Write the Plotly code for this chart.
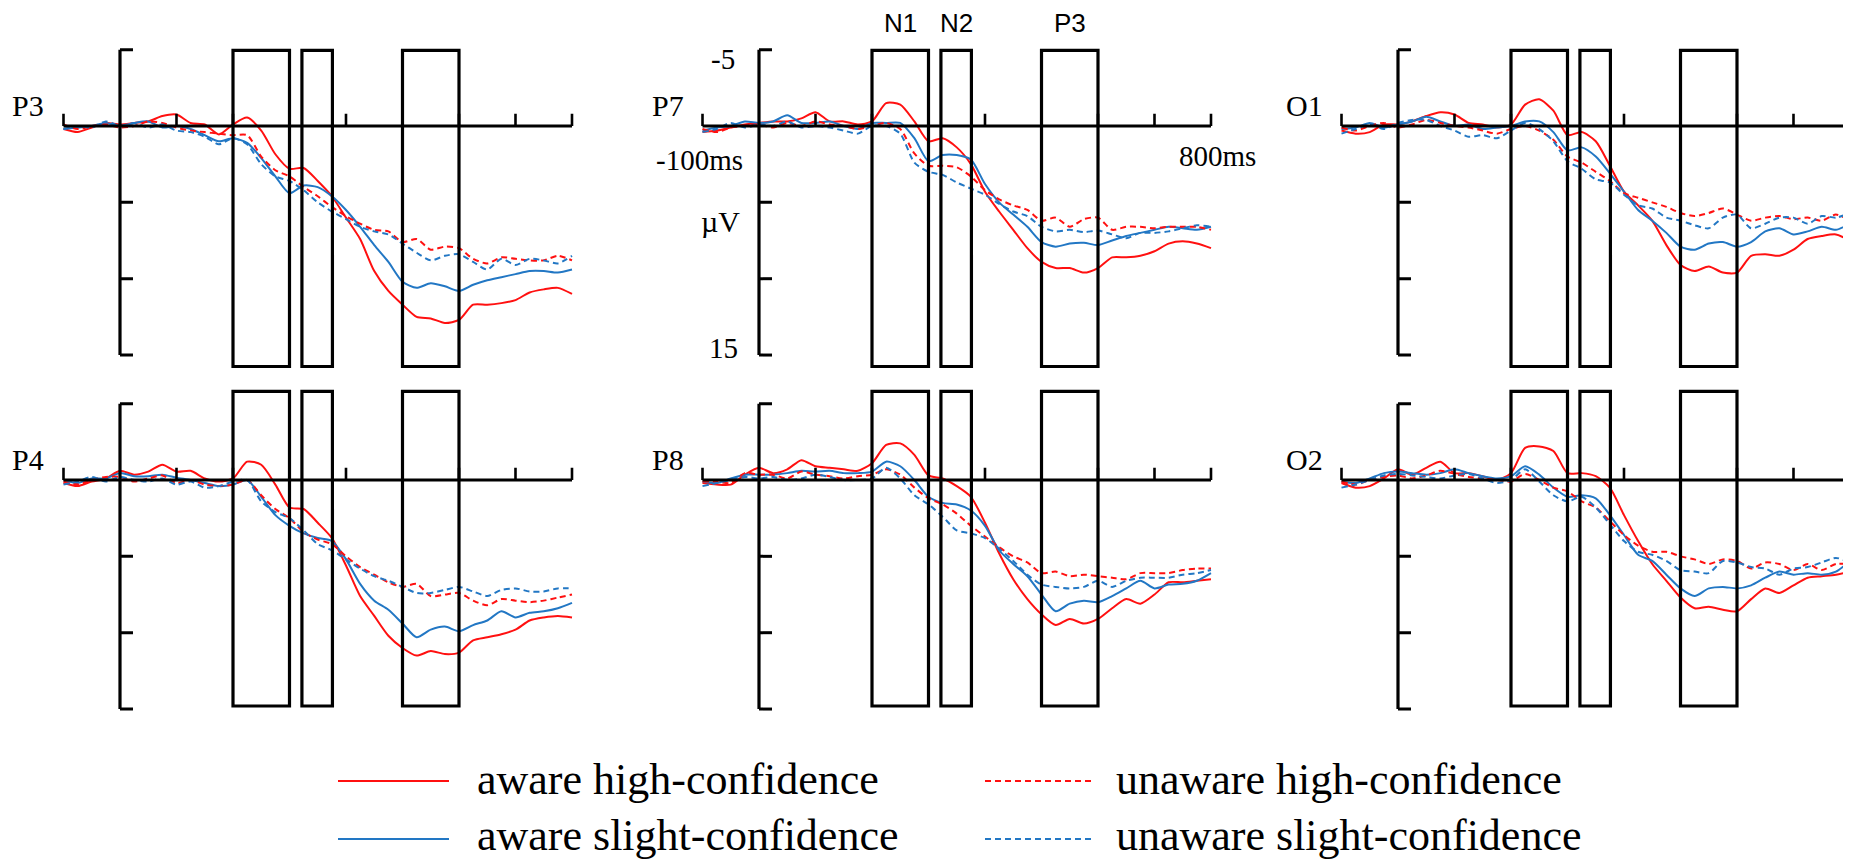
import plotly.graph_objects as go

# ---------------- data ----------------
TIME_MS = [-100, -75, -50, -25, 0, 25, 50, 75, 100, 125, 150, 175, 200, 225, 250, 275,
           300, 325, 350, 375, 400, 425, 450, 475, 500, 525, 550, 575, 600, 625, 650,
           675, 700, 725, 750, 775, 800]

CHANNELS = ["P3", "P7", "O1", "P4", "P8", "O2"]
CONDITIONS = ["aware high-confidence", "aware slight-confidence",
              "unaware high-confidence", "unaware slight-confidence"]

P3_AWARE_HIGH = [0.2, 0.4, 0.1, -0.2, -0.1, -0.2, -0.3, -0.65, -0.75, -0.2, -0.1, 0.55, -0.1, -0.55, 0.3, 1.85,
                 2.8, 2.75, 3.6, 4.6, 6.0, 7.4, 9.5, 10.8, 11.7, 12.5, 12.6, 12.9, 12.7, 11.7, 11.7, 11.6, 11.4, 10.9, 10.7, 10.6, 11.0]
P3_AWARE_SLIGHT = [0.2, 0.1, 0.0, -0.2, 0.0, -0.2, -0.3, 0.1, 0.0, 0.2, 0.6, 1.0, 0.8, 1.1, 2.1, 3.3,
                   4.4, 3.9, 4.0, 4.6, 5.5, 6.6, 7.8, 8.9, 10.2, 10.6, 10.3, 10.5, 10.8, 10.4, 10.1, 9.9, 9.7, 9.5, 9.5, 9.6, 9.4]
P3_UNAWARE_HIGH = [-0.1, 0.2, 0.0, -0.1, 0.1, 0.0, -0.3, -0.2, 0.1, 0.3, 0.4, 0.5, 0.6, 0.6, 2.0, 2.9,
                   3.3, 4.0, 4.6, 5.3, 5.9, 6.4, 6.8, 6.9, 7.6, 7.4, 8.1, 7.9, 8.0, 8.7, 9.0, 8.6, 8.7, 8.8, 8.8, 8.5, 8.8]
P3_UNAWARE_SLIGHT = [0.2, 0.0, 0.1, -0.3, 0.0, -0.2, 0.1, -0.1, 0.3, 0.4, 0.7, 1.2, 0.8, 1.2, 2.5, 3.3,
                     3.6, 4.2, 5.0, 5.6, 6.1, 6.6, 6.9, 7.1, 7.7, 8.3, 8.8, 8.5, 8.4, 8.9, 9.4, 8.7, 9.1, 8.7, 8.8, 9.0, 8.5]

P7_AWARE_HIGH = [0.4, 0.3, 0.1, -0.1, -0.2, -0.3, -0.3, -0.5, -0.9, -0.3, -0.3, -0.1, -0.3, -1.5, -1.4, -0.3,
                 1.0, 0.8, 1.4, 2.5, 4.3, 5.6, 6.8, 8.0, 8.9, 9.3, 9.3, 9.6, 9.3, 8.6, 8.6, 8.5, 8.2, 7.7, 7.55, 7.7, 8.0]
P7_AWARE_SLIGHT = [0.3, 0.1, 0.0, -0.3, -0.2, -0.3, -0.7, -0.2, -0.2, -0.3, 0.0, 0.2, -0.2, -0.2, -0.2, 0.8,
                   2.3, 1.9, 1.9, 2.2, 3.8, 5.0, 5.8, 6.6, 7.6, 7.9, 7.7, 7.65, 7.8, 7.5, 7.2, 7.0, 6.8, 6.6, 6.7, 6.8, 6.6]
P7_UNAWARE_HIGH = [0.2, 0.4, 0.1, 0.0, -0.1, 0.1, -0.2, 0.0, -0.3, -0.1, 0.0, 0.2, 0.0, -0.2, 0.2, 1.8,
                   2.6, 2.6, 2.7, 3.3, 4.2, 4.8, 5.2, 5.5, 6.2, 6.0, 6.6, 6.1, 6.0, 6.8, 6.6, 6.6, 6.7, 6.6, 6.6, 6.6, 6.8]
P7_UNAWARE_SLIGHT = [0.4, 0.2, -0.2, 0.1, -0.1, 0.0, -0.3, 0.1, 0.0, 0.1, 0.3, 0.5, 0.0, 0.0, 0.5, 2.4,
                     3.0, 3.2, 3.7, 4.1, 4.5, 5.1, 5.6, 5.9, 6.6, 6.9, 6.8, 6.95, 6.85, 7.1, 7.35, 7.0, 7.0, 6.9, 6.7, 6.5, 6.6]

O1_AWARE_HIGH = [0.3, 0.5, 0.4, -0.1, -0.1, -0.3, -0.65, -0.9, -0.75, -0.2, -0.1, 0.1, -0.1, -1.4, -1.75, -1.0,
                 0.6, 0.4, 1.0, 2.6, 4.3, 5.2, 6.2, 7.8, 9.1, 9.5, 9.2, 9.6, 9.6, 8.5, 8.4, 8.5, 8.1, 7.4, 7.2, 7.1, 7.5]
O1_AWARE_SLIGHT = [0.2, 0.1, -0.2, 0.1, -0.1, -0.3, -0.6, -0.3, 0.0, -0.1, 0.2, 0.1, 0.0, -0.3, -0.3, 0.4,
                   1.6, 1.4, 2.0, 3.1, 4.3, 5.5, 6.2, 7.0, 7.9, 8.1, 7.7, 7.6, 7.9, 7.6, 6.9, 6.7, 7.1, 6.9, 6.6, 6.8, 6.4]
O1_UNAWARE_HIGH = [0.1, 0.3, 0.0, -0.2, 0.1, -0.1, -0.4, -0.2, 0.0, 0.1, 0.3, 0.5, 0.2, 0.0, 0.3, 0.9,
                   2.0, 2.4, 3.0, 3.6, 4.4, 4.7, 5.0, 5.3, 5.7, 5.9, 5.7, 5.4, 5.8, 6.2, 6.0, 5.9, 6.1, 6.0, 6.2, 5.8, 6.2]
O1_UNAWARE_SLIGHT = [0.5, 0.2, -0.1, 0.2, -0.2, -0.4, -0.4, 0.0, 0.3, 0.7, 0.6, 0.8, 0.3, -0.2, 0.2, 1.0,
                     2.3, 2.8, 3.5, 3.7, 4.5, 5.2, 5.4, 6.0, 6.2, 6.5, 6.7, 6.0, 5.8, 6.7, 6.4, 6.0, 6.0, 6.4, 5.9, 6.0, 5.7]

P4_AWARE_HIGH = [0.2, 0.4, 0.1, -0.1, -0.6, -0.35, -0.55, -1.0, -0.55, -0.6, -0.1, 0.1, -0.1, -1.2, -1.0, 0.3,
                 1.8, 1.9, 2.8, 3.8, 5.6, 7.6, 8.9, 10.2, 11.0, 11.5, 11.2, 11.4, 11.3, 10.5, 10.3, 10.1, 9.8, 9.2, 9.0, 8.9, 9.0]
P4_AWARE_SLIGHT = [0.0, 0.2, -0.1, -0.1, -0.45, -0.25, -0.25, -0.35, -0.15, 0.0, 0.2, 0.4, 0.3, 0.0, 1.1, 2.3,
                   3.0, 3.5, 3.8, 4.0, 5.2, 6.8, 7.9, 8.5, 9.4, 10.3, 9.8, 9.6, 9.9, 9.5, 9.2, 8.6, 9.0, 8.7, 8.6, 8.4, 8.05]
P4_UNAWARE_HIGH = [0.1, 0.3, 0.0, -0.2, -0.2, 0.1, -0.1, -0.3, 0.2, 0.0, 0.3, 0.4, 0.3, 0.0, 1.0, 1.9,
                   2.5, 3.4, 3.9, 4.2, 5.0, 5.7, 6.2, 6.7, 7.0, 6.8, 7.6, 7.5, 7.4, 7.9, 8.2, 7.8, 7.9, 8.0, 7.9, 7.7, 7.5]
P4_UNAWARE_SLIGHT = [0.3, 0.1, -0.2, 0.1, -0.2, 0.0, 0.1, -0.1, 0.3, 0.1, 0.5, 0.4, 0.1, 0.0, 1.4, 2.1,
                     2.5, 3.3, 4.2, 4.6, 5.2, 5.8, 6.3, 6.6, 7.0, 7.4, 7.4, 7.2, 7.0, 7.3, 7.6, 7.2, 7.1, 7.3, 7.3, 7.1, 7.1]

P8_AWARE_HIGH = [0.2, 0.3, 0.3, -0.35, -0.8, -0.45, -0.7, -1.3, -0.9, -0.8, -0.7, -0.6, -1.1, -2.3, -2.4, -1.65,
                 -0.3, -0.1, 0.4, 1.1, 2.8, 4.8, 6.5, 7.8, 8.8, 9.5, 9.1, 9.4, 9.1, 8.4, 7.8, 8.1, 7.5, 6.7, 6.7, 6.6, 6.5]
P8_AWARE_SLIGHT = [0.1, 0.2, -0.1, -0.35, -0.35, -0.35, -0.45, -0.6, -0.55, -0.6, -0.45, -0.45, -0.55, -1.2, -0.9, 0.0,
                   1.1, 1.5, 1.6, 2.0, 3.0, 4.6, 5.5, 6.3, 7.5, 8.6, 8.1, 7.9, 8.0, 7.6, 7.1, 6.6, 7.1, 6.85, 6.8, 6.6, 6.1]
P8_UNAWARE_HIGH = [0.1, 0.1, 0.2, -0.45, -0.35, -0.35, -0.1, -0.55, -0.35, -0.25, -0.1, -0.25, -0.35, -0.7, -0.35, 0.5,
                   1.2, 1.6, 2.2, 3.0, 3.7, 4.4, 5.0, 5.4, 6.1, 6.0, 6.3, 6.2, 6.3, 6.4, 6.5, 6.1, 6.1, 6.1, 5.9, 5.8, 5.8]
P8_UNAWARE_SLIGHT = [0.4, 0.2, 0.0, -0.2, -0.1, -0.2, 0.0, -0.1, -0.35, -0.2, 0.0, 0.0, -0.1, -0.8, -0.1, 1.0,
                     1.6, 2.4, 3.3, 3.5, 3.8, 4.5, 5.3, 6.2, 6.85, 7.0, 7.1, 7.0, 6.6, 7.0, 6.6, 6.4, 6.4, 6.4, 6.2, 6.1, 5.9]

O2_AWARE_HIGH = [0.2, 0.5, 0.4, -0.1, -0.7, -0.35, -0.8, -1.2, -0.45, -0.45, -0.25, 0.0, -0.45, -2.1, -2.2, -1.9,
                 -0.45, -0.45, -0.25, 0.5, 2.3, 4.0, 5.5, 6.6, 7.7, 8.4, 8.3, 8.5, 8.6, 7.8, 7.1, 7.4, 6.9, 6.4, 6.3, 6.2, 6.0]
O2_AWARE_SLIGHT = [0.1, 0.2, -0.1, -0.45, -0.55, -0.45, -0.35, -0.45, -0.7, -0.45, -0.25, -0.1, -0.25, -0.9, -0.35, 0.5,
                   1.1, 1.0, 1.2, 2.3, 3.6, 4.9, 5.3, 6.2, 7.1, 7.6, 7.1, 7.0, 7.1, 6.9, 6.4, 6.0, 6.2, 6.1, 6.2, 6.0, 5.3]
O2_UNAWARE_HIGH = [0.1, 0.3, 0.0, -0.2, -0.3, -0.1, -0.3, -0.6, -0.4, -0.2, -0.1, 0.0, 0.1, -0.4, 0.0, 0.5,
                   0.75, 1.4, 1.8, 2.7, 3.6, 4.3, 4.7, 4.7, 5.0, 5.2, 5.5, 5.2, 5.3, 5.8, 5.4, 5.5, 5.9, 5.5, 5.9, 5.5, 5.5]
O2_UNAWARE_SLIGHT = [0.5, 0.3, 0.0, -0.3, -0.4, -0.3, -0.2, -0.1, -0.3, -0.4, -0.1, 0.2, 0.0, -0.7, 0.1, 1.0,
                     1.4, 1.1, 1.8, 2.9, 4.0, 4.7, 4.9, 5.3, 5.9, 6.0, 6.1, 5.3, 5.4, 5.7, 5.8, 6.2, 5.8, 5.7, 5.4, 5.1, 5.4]

SERIES = {
    "P3": [P3_AWARE_HIGH, P3_AWARE_SLIGHT, P3_UNAWARE_HIGH, P3_UNAWARE_SLIGHT],
    "P7": [P7_AWARE_HIGH, P7_AWARE_SLIGHT, P7_UNAWARE_HIGH, P7_UNAWARE_SLIGHT],
    "O1": [O1_AWARE_HIGH, O1_AWARE_SLIGHT, O1_UNAWARE_HIGH, O1_UNAWARE_SLIGHT],
    "P4": [P4_AWARE_HIGH, P4_AWARE_SLIGHT, P4_UNAWARE_HIGH, P4_UNAWARE_SLIGHT],
    "P8": [P8_AWARE_HIGH, P8_AWARE_SLIGHT, P8_UNAWARE_HIGH, P8_UNAWARE_SLIGHT],
    "O2": [O2_AWARE_HIGH, O2_AWARE_SLIGHT, O2_UNAWARE_HIGH, O2_UNAWARE_SLIGHT],
}

COMPONENT_NAMES = ["N1", "N2", "P3"]
COMPONENT_WINDOWS_MS = [(200, 300), (322, 376), (500, 600)]
X_TICKS_MS = [-100, 100, 200, 300, 400, 500, 600, 700, 800]
X_AXIS_SPAN_MS = (-100, 800)
Y_TICKS_UV = [-5, 5, 10, 15]
Y_AXIS_SPAN_UV = (-5, 15)
Y_LABEL_TOP, Y_LABEL_BOTTOM = "-5", "15"
X_LABEL_LEFT, X_LABEL_RIGHT = "-100ms", "800ms"
UNIT_LABEL = "µV"

# ---------------- styles / geometry ----------------
W, H = 1851, 862
RED = "#ff1010"
BLUE = "#2277c4"
STYLES = [(RED, "solid"), (BLUE, "solid"), (RED, "6px,4px"), (BLUE, "6px,4px")]
SERIF = "Liberation Serif, Times New Roman, serif"
SANS = "Liberation Sans, Arial, sans-serif"

COL_ZERO_PX = [112, 751, 1390]     # pixel x of t = 0
ROW_ZERO_PX = [118, 472]           # pixel y of 0 uV
PX_PER_MS = 0.565
PX_PER_UV = 15.27
XR = (-115, 815)
YR = (-6.5, 16.5)
BOX_Y = [(-4.95, 15.75), (-5.8, 14.8)]   # per row
TICK_LEN_UV = 0.8
TICK_LEN_MS = 23

def pxx(p):
    return p / W

def pxy(p):
    return 1 - p / H

fig = go.Figure()
layout = {}
shapes = []
annotations = []

for i, ch in enumerate(CHANNELS):
    row, col = divmod(i, 3)
    sfx = "" if i == 0 else str(i + 1)
    xa, ya = "x" + sfx, "y" + sfx
    x0p = COL_ZERO_PX[col]
    z0p = ROW_ZERO_PX[row]
    layout["xaxis" + sfx] = dict(
        domain=[pxx(x0p + XR[0] * PX_PER_MS), pxx(x0p + XR[1] * PX_PER_MS)],
        range=list(XR), visible=False, fixedrange=True, anchor=ya)
    layout["yaxis" + sfx] = dict(
        domain=[pxy(z0p + YR[1] * PX_PER_UV), pxy(z0p + YR[0] * PX_PER_UV)],
        range=[YR[1], YR[0]], visible=False, fixedrange=True, anchor=xa)

    for (color, dash), name, vals in zip(STYLES, CONDITIONS, SERIES[ch]):
        fig.add_trace(go.Scatter(
            x=TIME_MS, y=vals, mode="lines", name=name, showlegend=False,
            xaxis=xa, yaxis=ya, hoverinfo="skip",
            line=dict(color=color, width=2, dash=dash, shape="spline", smoothing=0.7)))

    blk = dict(color="black", width=3.2)
    shapes.append(dict(type="line", xref=xa, yref=ya, x0=X_AXIS_SPAN_MS[0], x1=X_AXIS_SPAN_MS[1],
                       y0=0, y1=0, line=blk))
    for t in X_TICKS_MS:
        shapes.append(dict(type="line", xref=xa, yref=ya, x0=t, x1=t, y0=0, y1=-TICK_LEN_UV,
                           line=dict(color="black", width=2.6)))
    shapes.append(dict(type="line", xref=xa, yref=ya, x0=0, x1=0,
                       y0=Y_AXIS_SPAN_UV[0], y1=Y_AXIS_SPAN_UV[1], line=blk))
    for v in Y_TICKS_UV:
        shapes.append(dict(type="line", xref=xa, yref=ya, x0=0, x1=TICK_LEN_MS, y0=v, y1=v,
                           line=dict(color="black", width=3)))
    for (a, b) in COMPONENT_WINDOWS_MS:
        shapes.append(dict(type="rect", xref=xa, yref=ya, x0=a, x1=b,
                           y0=BOX_Y[row][0], y1=BOX_Y[row][1],
                           line=dict(color="black", width=3.2), fillcolor="rgba(0,0,0,0)"))

    annotations.append(dict(xref=xa, yref=ya, x=-100, y=0, text=ch, showarrow=False,
                            xanchor="right", yanchor="middle", xshift=-17, yshift=20,
                            font=dict(family=SERIF, size=30, color="black")))

    if ch == "P7":
        annotations += [
            dict(xref=xa, yref=ya, x=0, y=Y_AXIS_SPAN_UV[0], text=Y_LABEL_TOP, showarrow=False,
                 xanchor="right", yanchor="middle", xshift=-22, yshift=-9,
                 font=dict(family=SERIF, size=29, color="black")),
            dict(xref=xa, yref=ya, x=0, y=Y_AXIS_SPAN_UV[1], text=Y_LABEL_BOTTOM, showarrow=False,
                 xanchor="right", yanchor="middle", xshift=-19, yshift=7,
                 font=dict(family=SERIF, size=29, color="black")),
            dict(xref=xa, yref=ya, x=0, y=5, text=UNIT_LABEL, showarrow=False,
                 xanchor="right", yanchor="middle", xshift=-17, yshift=-19,
                 font=dict(family=SERIF, size=30, color="black")),
            dict(xref=xa, yref=ya, x=X_AXIS_SPAN_MS[0], y=0, text=X_LABEL_LEFT, showarrow=False,
                 xanchor="center", yanchor="middle", xshift=-3, yshift=-34,
                 font=dict(family=SERIF, size=29, color="black")),
            dict(xref=xa, yref=ya, x=X_AXIS_SPAN_MS[1], y=0, text=X_LABEL_RIGHT, showarrow=False,
                 xanchor="center", yanchor="middle", xshift=7, yshift=-30,
                 font=dict(family=SERIF, size=29, color="black")),
        ]
        for nm, (a, b) in zip(COMPONENT_NAMES, COMPONENT_WINDOWS_MS):
            annotations.append(dict(xref=xa, yref=ya, x=(a + b) / 2, y=BOX_Y[0][0], text=nm,
                                    showarrow=False, xanchor="center", yanchor="middle",
                                    yshift=27, font=dict(family=SANS, size=26, color="black")))

# ---------------- legend (drawn) ----------------
LEG_ROWS_PX = [773, 831]
LEG_TEXT_PX = [771, 827]
LEG_COLS_PX = [(330, 441, 468), (977, 1085, 1107)]
for k, ((color, dash), name) in enumerate(zip(STYLES, CONDITIONS)):
    c = k // 2
    r = k % 2
    l0, l1, tx = LEG_COLS_PX[c]
    yp = LEG_ROWS_PX[r]
    shapes.append(dict(type="line", xref="paper", yref="paper", x0=pxx(l0), x1=pxx(l1),
                       y0=pxy(yp), y1=pxy(yp), line=dict(color=color, width=2, dash=dash)))
    annotations.append(dict(xref="paper", yref="paper", x=pxx(tx), y=pxy(LEG_TEXT_PX[r]), text=name,
                            showarrow=False, xanchor="left", yanchor="middle", borderpad=0,
                            font=dict(family=SERIF, size=44, color="black")))

fig.update_layout(
    width=W, height=H, margin=dict(l=0, r=0, t=0, b=0),
    paper_bgcolor="white", plot_bgcolor="rgba(0,0,0,0)",
    showlegend=False, shapes=shapes, annotations=annotations, **layout)

fig.write_html("out.html", config={"displayModeBar": False})
